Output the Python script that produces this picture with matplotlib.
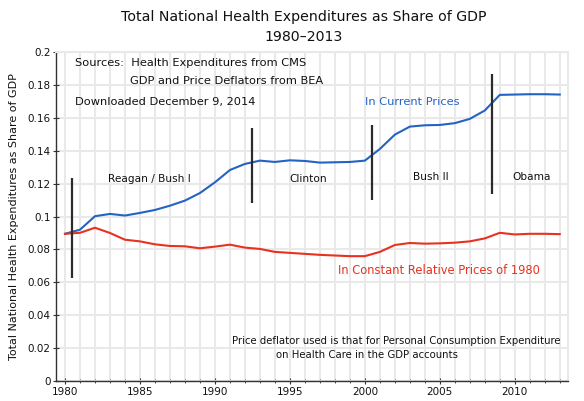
import matplotlib
matplotlib.use("Agg")
import matplotlib.pyplot as plt
from matplotlib.ticker import MultipleLocator, FixedLocator

years = list(range(1980, 2014))
current_prices = [0.0895, 0.0920, 0.1002, 0.1016, 0.1006, 0.1022, 0.1040, 0.1066, 0.1097,
                  0.1143, 0.1208, 0.1283, 0.1320, 0.1340, 0.1332, 0.1342, 0.1338, 0.1328,
                  0.1330, 0.1332, 0.1340, 0.1411, 0.1498, 0.1547, 0.1555, 0.1557, 0.1568,
                  0.1594, 0.1645, 0.1740, 0.1742, 0.1744, 0.1744, 0.1742]
constant_prices = [0.0895, 0.0901, 0.0932, 0.0900, 0.0859, 0.0849, 0.0831, 0.0821, 0.0819,
                   0.0807, 0.0817, 0.0829, 0.0811, 0.0803, 0.0785, 0.0779, 0.0773, 0.0767,
                   0.0763, 0.0759, 0.0759, 0.0785, 0.0827, 0.0839, 0.0835, 0.0837, 0.0841,
                   0.0849, 0.0867, 0.0901, 0.0891, 0.0895, 0.0895, 0.0893]

# administration boundaries: x position, bottom, top
era_x = [1980.5, 1992.5, 2000.5, 2008.5]
era_bottom = [0.0625, 0.1084, 0.1098, 0.1137]
era_top = [0.1235, 0.1541, 0.1556, 0.1868]
era_names = ["Reagan / Bush I", "Clinton", "Bush II", "Obama"]
era_label_x = [1985.6, 1996.2, 2004.4, 2011.1]
era_label_y = [0.1228, 0.1228, 0.1239, 0.1243]

x_major = [1980, 1985, 1990, 1995, 2000, 2005, 2010]
y_ticks = [0, 0.02, 0.04, 0.06, 0.08, 0.1, 0.12, 0.14, 0.16, 0.18, 0.2]
y_tick_labels = ["0", "0.02", "0.04", "0.06", "0.08", "0.1", "0.12", "0.14", "0.16", "0.18", "0.2"]

BLUE = "#2462c4"
RED = "#e8321e"
GRID = "#e9e9e9"

plt.rcParams["font.family"] = ["DejaVu Sans"]

fig = plt.figure(figsize=(5.84, 4.01), dpi=100)
ax = fig.add_axes([0.0959, 0.050, 0.8767, 0.820])

ax.set_xlim(1979.4, 2013.55)
ax.set_ylim(0, 0.2)

# grid
ax.xaxis.set_minor_locator(MultipleLocator(1))
ax.xaxis.set_major_locator(FixedLocator(x_major))
ax.set_yticks(y_ticks)
ax.set_yticklabels(y_tick_labels)
ax.grid(True, which="both", axis="x", color=GRID, linewidth=1.5, zorder=0)
ax.grid(True, which="major", axis="y", color=GRID, linewidth=1.5, zorder=0)
ax.set_axisbelow(True)

for s in ["top", "right"]:
    ax.spines[s].set_color(GRID)
    ax.spines[s].set_linewidth(1.5)
for s in ["left", "bottom"]:
    ax.spines[s].set_color("#333333")
    ax.spines[s].set_linewidth(1.0)

ax.tick_params(axis="both", which="both", direction="inout", color="#333333", labelsize=7.5,
               labelcolor="#111111")
ax.tick_params(axis="x", which="major", length=5, pad=2)
ax.tick_params(axis="x", which="minor", length=3)
ax.tick_params(axis="y", which="major", length=4, pad=2)

ax.plot(years, current_prices, color=BLUE, linewidth=1.5, zorder=3)
ax.plot(years, constant_prices, color=RED, linewidth=1.5, zorder=3)

for xv, b, t in zip(era_x, era_bottom, era_top):
    ax.vlines(xv, b, t, color="#2b2b2b", linewidth=1.6, zorder=4)

for name, lx, ly in zip(era_names, era_label_x, era_label_y):
    ax.text(lx, ly, name, ha="center", va="center", fontsize=7.6, color="#111111")

ax.text(1980.7, 0.1935, "Sources:  Health Expenditures from CMS", ha="left", va="center",
        fontsize=8.2, color="#111111")
ax.text(1984.36, 0.1827, "GDP and Price Deflators from BEA", ha="left", va="center",
        fontsize=8.2, color="#111111")
ax.text(1980.7, 0.1695, "Downloaded December 9, 2014", ha="left", va="center",
        fontsize=8.2, color="#111111")
ax.text(2000.04, 0.1695, "In Current Prices", ha="left", va="center",
        fontsize=8.2, color=BLUE)
ax.text(1998.2, 0.0674, "In Constant Relative Prices of 1980", ha="left", va="center",
        fontsize=8.3, color=RED)
ax.text(1991.13, 0.0241, "Price deflator used is that for Personal Consumption Expenditure",
        ha="left", va="center", fontsize=7.3, color="#111111")
ax.text(1994.07, 0.0155, "on Health Care in the GDP accounts",
        ha="left", va="center", fontsize=7.3, color="#111111")

ax.set_ylabel("Total National Health Expenditures as Share of GDP", fontsize=8,
              color="#111111", labelpad=6)

fig.text(0.52, 0.957, "Total National Health Expenditures as Share of GDP", ha="center",
         va="center", fontsize=10.2, color="#111111")
fig.text(0.52, 0.907, "1980\u20132013", ha="center", va="center", fontsize=10.2, color="#111111")

fig.savefig("out.png", dpi=100)
